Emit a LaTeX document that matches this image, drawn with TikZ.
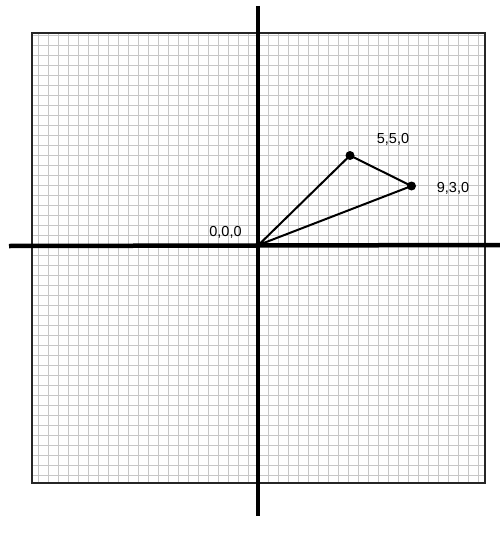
\documentclass[tikz,border=0pt]{standalone}
\usepackage{fontspec}
\setmainfont{Liberation Sans}
\begin{document}
\begin{tikzpicture}[x=1pt,y=-1pt,
  gridline/.style={draw=black!22,line width=0.9pt},
  frame/.style={draw=black!85,line width=1.9pt},
  axis/.style={draw=black,line width=4.5pt},
  edge/.style={draw=black,line width=2pt},
  dot/.style={circle,fill=black,inner sep=0pt,minimum size=9pt},
  lbl/.style={font=\fontsize{14.5}{16}\selectfont,inner sep=0pt}]
\useasboundingbox[fill=white] (0,0) rectangle (500,535);
% grid
\begin{scope}
\clip (32,33) rectangle (485,483);
\foreach \i in {-23,...,23} {
  \draw[gridline] ({258+10*\i},33) -- ({258+10*\i},483);
}
\foreach \j in {-22,...,24} {
  \draw[gridline] (32,{245+10*\j}) -- (485,{245+10*\j});
}
\end{scope}
\draw[frame] (32,33) rectangle (485,483);
% axes
\coordinate (ytop) at (258,6);
\coordinate (ybot) at (258,516);
\coordinate (xleft) at (9,246);
\coordinate (xright) at (500,245);
\draw[axis] (ytop) -- (ybot);
\draw[axis] (xleft) -- (xright);
% triangle
\coordinate (O) at (258.5,245);
\node[dot] (A) at (350,155.5) {};
\node[dot] (B) at (411.5,186) {};
\draw[edge,line join=round] (O) -- (A.center) -- (B.center) -- cycle;
% labels
\node[lbl] (lO) at (225.5,232) {0,0,0};
\node[lbl] (lA) at (393,139.5) {5,5,0};
\node[lbl] (lB) at (453,188) {9,3,0};
\end{tikzpicture}
\end{document}
